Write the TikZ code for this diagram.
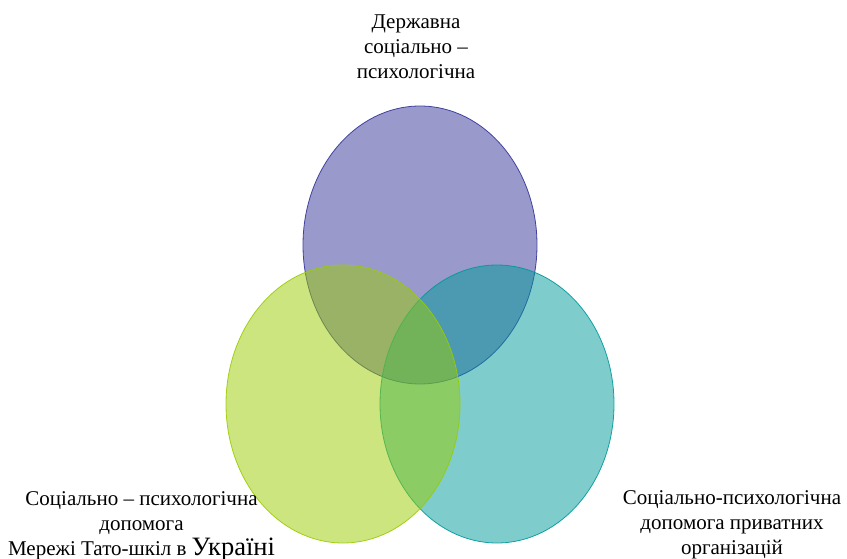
\documentclass[tikz,border=0pt]{standalone}
\usepackage{fontspec}
\setmainfont{Liberation Serif}
\newfontfamily\tnr{Liberation Serif}
\usetikzlibrary{shapes.geometric}
\definecolor{cpurple}{HTML}{333399}
\definecolor{cteal}{HTML}{009999}
\definecolor{cgreen}{HTML}{99CC00}
\tikzset{
  venn/.style={ellipse, minimum width=234pt, minimum height=278pt, inner sep=0pt, fill opacity=0.5, draw opacity=0.9, line width=0.8pt},
  lbl/.style={align=center, font=\tnr\fontsize{21}{25}\selectfont, inner sep=0pt}
}
\begin{document}
\begin{tikzpicture}[x=1pt,y=-1pt]
\useasboundingbox (0,0) rectangle (847,559);
\node[venn, draw=cpurple, fill=cpurple] (top) at (420,245) {};
\node[venn, draw=cteal, fill=cteal] (right) at (497,404) {};
\node[venn, draw=cgreen, fill=cgreen] (left) at (343,404) {};
\node[lbl] (ttop) at (416,47) {Державна\\ соціально –\\психологічна};
\node[lbl] (tleft) at (141.5,526) {Соціально – психологічна\\допомога\\Мережі Тато-шкіл в {\fontsize{26.5}{25}\selectfont Україні}};
\node[lbl] (tright) at (732,525) {Соціально-психологічна\\допомога приватних\\організацій};
\end{tikzpicture}
\end{document}
